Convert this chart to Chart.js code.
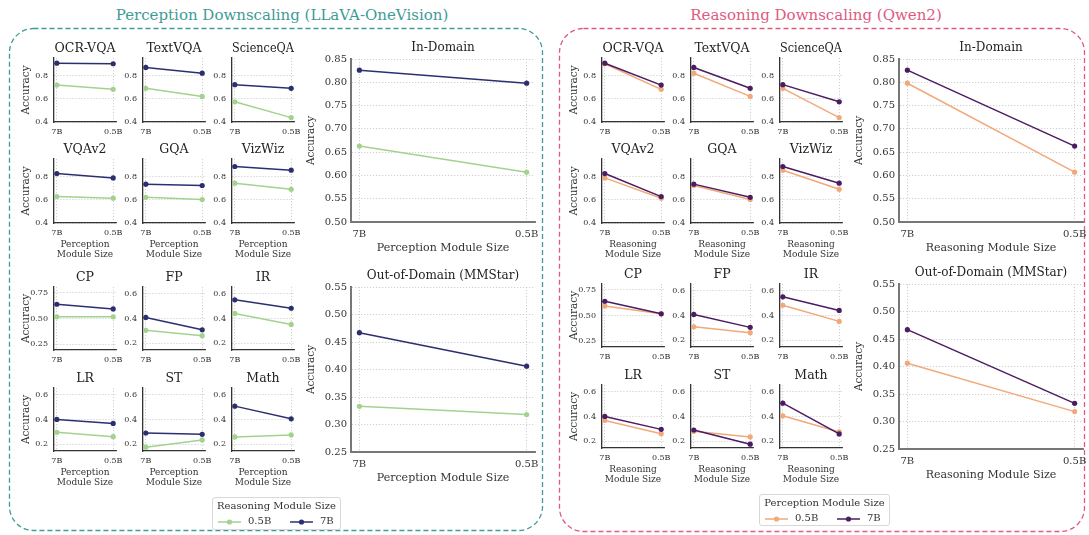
<!DOCTYPE html>
<html>
<head>
<meta charset="utf-8">
<script src="https://cdn.jsdelivr.net/npm/chart.js@4.4.1/dist/chart.umd.min.js"></script>
<style>
body { margin: 0; background: #fff; width: 1089px; height: 535px; position: relative; overflow: hidden; font-family: 'DejaVu Serif', serif; }
canvas { position: absolute; }
.ptitle { position: absolute; top: 5px; width: 500px; text-align: center; font-size: 15px; line-height: 20px; }
.legend { position: absolute; background: #fff; border: 1px solid #d8d8d8; border-radius: 3px; color: #333; font-size: 10px; }
.legend div { position: absolute; white-space: nowrap; line-height: 12px; }
.legend svg { position: absolute; }
</style>
</head>
<body>
<svg width="1089" height="535" style="position:absolute;left:0;top:0">
  <rect x="9.5" y="28.5" width="533" height="502" rx="24" fill="none" stroke="#3f9b96" stroke-width="1.3" stroke-dasharray="5 3"/>
  <rect x="559.5" y="28.5" width="525" height="503" rx="24" fill="none" stroke="#de5a80" stroke-width="1.3" stroke-dasharray="5 3"/>
</svg>
<div class="ptitle" style="left:32px;color:#3f9b96">Perception Downscaling (LLaVA-OneVision)</div>
<div class="ptitle" style="left:566px;color:#de5a80">Reasoning Downscaling (Qwen2)</div>

<script>
// Benchmarks, in subplot order
const benchmarks = ['OCR-VQA', 'TextVQA', 'ScienceQA', 'VQAv2', 'GQA', 'VizWiz',
    'CP', 'FP', 'IR', 'LR', 'ST', 'Math', 'In-Domain', 'Out-of-Domain (MMStar)'];
const sizeLabels = ['7B', '0.5B'];

// Accuracy for each (perception size, reasoning size) pair
const accP7R7   = [0.910, 0.873, 0.724, 0.829, 0.737, 0.890, 0.638, 0.408, 0.550, 0.400, 0.291, 0.507, 0.826, 0.467];
const accP05R7  = [0.905, 0.823, 0.692, 0.791, 0.725, 0.858, 0.593, 0.309, 0.482, 0.368, 0.280, 0.405, 0.798, 0.406];
const accP7R05  = [0.720, 0.692, 0.575, 0.629, 0.623, 0.745, 0.516, 0.304, 0.440, 0.296, 0.177, 0.259, 0.663, 0.333];
const accP05R05 = [0.683, 0.622, 0.438, 0.615, 0.603, 0.692, 0.516, 0.261, 0.352, 0.261, 0.235, 0.275, 0.607, 0.318];

// Y tick labels
const ticksHigh = [0.4, 0.6, 0.8];
const ticksCP = [0.25, 0.50, 0.75];
const ticksLow = [0.2, 0.4, 0.6];
const ticksInDomain = [0.50, 0.55, 0.60, 0.65, 0.70, 0.75, 0.80, 0.85];
const ticksOOD = [0.25, 0.30, 0.35, 0.40, 0.45, 0.50, 0.55];

const FONT = 'DejaVu Serif';
const TEXT = '#333';

function yAxisFor(i) {
    if (i < 6) return { min: 0.4, max: 0.955, ticks: ticksHigh, dec: 1 };
    if (i === 6) return { min: 0.195, max: 0.805, ticks: ticksCP, dec: 2 };
    if (i < 12) return { min: 0.146, max: 0.653, ticks: ticksLow, dec: 1 };
    if (i === 12) return { min: 0.5, max: 0.85, ticks: ticksInDomain, dec: 2 };
    return { min: 0.25, max: 0.55, ticks: ticksOOD, dec: 2 };
}

const panels = [
    {
        dx: 0, dyLow: 0, xName: 'Perception', legendTitle: 'Reasoning Module Size',
        series: [
            { label: '0.5B', color: '#a3d28f', at7B: accP7R05, at05B: accP05R05 },
            { label: '7B', color: '#2c2f6f', at7B: accP7R7, at05B: accP05R7 }
        ],
        legend: { l: 212, t: 497, w: 127, h: 31 }
    },
    {
        dx: 548, dyLow: -3, xName: 'Reasoning', legendTitle: 'Perception Module Size',
        series: [
            { label: '0.5B', color: '#f2a97a', at7B: accP05R7, at05B: accP05R05 },
            { label: '7B', color: '#4a1c62', at7B: accP7R7, at05B: accP7R05 }
        ],
        legend: { l: 759, t: 494, w: 129, h: 30 }
    }
];

const colLeft = [54, 143, 232];
const rowTop = [58, 159, 287, 388];
const rowH = [64, 64, 63, 63];

function makeChart(area, idx, panel, o) {
    const c = document.createElement('canvas');
    const W = area.r - area.l + o.padL + o.padR;
    const H = area.b - area.t + o.padT + o.padB;
    c.width = W; c.height = H;
    c.style.left = (area.l - o.padL) + 'px';
    c.style.top = (area.t - o.padT) + 'px';
    c.style.width = W + 'px'; c.style.height = H + 'px';
    document.body.appendChild(c);

    const ya = yAxisFor(idx);
    const datasets = panel.series.map(s => ({
        label: s.label,
        data: [{ x: 0, y: s.at7B[idx] }, { x: 1, y: s.at05B[idx] }],
        borderColor: s.color,
        backgroundColor: s.color,
        pointBackgroundColor: s.color,
        borderWidth: o.lw,
        pointRadius: o.pr,
        pointHoverRadius: o.pr,
        pointBorderWidth: 0,
        order: s.label === '7B' ? 0 : 1,
        clip: false
    }));

    new Chart(c, {
        type: 'line',
        data: { datasets },
        options: {
            responsive: false,
            animation: false,
            devicePixelRatio: 1,
            events: [],
            layout: { padding: { left: 0, top: 0, bottom: 0, right: o.padR } },
            plugins: {
                legend: { display: false },
                tooltip: { enabled: false },
                title: {
                    display: true,
                    fullSize: false,
                    text: benchmarks[idx],
                    color: '#222',
                    font: { family: FONT, size: o.ts, weight: 'normal' },
                    padding: { top: o.padT - o.ts * 1.2 - o.tGap, bottom: o.tGap }
                }
            },
            scales: {
                x: {
                    type: 'linear', min: -0.05, max: 1.05,
                    afterBuildTicks: s => { s.ticks = [{ value: 0 }, { value: 1 }]; },
                    afterFit: s => { s.height = o.padB; s.paddingLeft = 0; s.paddingRight = 0; },
                    ticks: { callback: v => sizeLabels[v], color: TEXT, font: { family: FONT, size: o.tick }, padding: o.xtp, maxRotation: 0, autoSkip: false },
                    grid: { color: '#c4c4c4', lineWidth: 0.8, drawTicks: false },
                    border: { color: o.spine, width: o.sw, dash: [1.2, 1.8] },
                    title: {
                        display: !!o.xTitle, text: o.xTitle, color: TEXT,
                        font: { family: FONT, size: o.xts, lineHeight: 1.2 },
                        padding: { top: 0, bottom: o.xtb }
                    }
                },
                y: {
                    min: ya.min, max: ya.max,
                    afterBuildTicks: s => { s.ticks = ya.ticks.map(v => ({ value: v })); },
                    afterFit: s => { s.width = o.padL; s.paddingTop = 0; s.paddingBottom = 0; },
                    ticks: { callback: v => v.toFixed(ya.dec), color: TEXT, font: { family: FONT, size: o.tick }, padding: o.ytp },
                    grid: { color: '#c4c4c4', lineWidth: 0.8, drawTicks: false },
                    border: { color: o.spine, width: o.sw, dash: [1.2, 1.8] },
                    title: {
                        display: o.yTitle, text: 'Accuracy', color: TEXT,
                        font: { family: FONT, size: 10.5 },
                        padding: { top: o.ytt, bottom: 0 }
                    }
                }
            }
        }
    });
}

panels.forEach(panel => {
    // 12 small subplots
    for (let i = 0; i < 12; i++) {
        const row = Math.floor(i / 3), col = i % 3;
        const top = rowTop[row] + (row >= 2 ? panel.dyLow : 0);
        const area = { l: colLeft[col] + panel.dx, t: top, r: colLeft[col] + panel.dx + 62, b: top + rowH[row] };
        const withX = row === 1 || row === 3;
        makeChart(area, i, panel, {
            padL: col === 0 ? 40 : 30, padR: 14, padT: 20, padB: withX ? 40 : 22,
            ts: 12.5, tGap: 2, tick: 8, xtp: 5, ytp: 6,
            xTitle: withX ? [panel.xName, 'Module Size'] : null, xts: 9, xtb: 2.6,
            yTitle: col === 0, ytt: 6.4,
            lw: 1.5, pr: 2.6, spine: '#333', sw: 1.3
        });
    }
    // In-Domain and Out-of-Domain
    const bigAreas = [
        { l: 351 + panel.dx, t: 59, r: 535 + panel.dx, b: 222 },
        { l: 351 + panel.dx, t: 287 + panel.dyLow, r: 535 + panel.dx, b: 452 + panel.dyLow }
    ];
    bigAreas.forEach((area, k) => {
        makeChart(area, 12 + k, panel, {
            padL: 51, padR: 14, padT: 22, padB: 34,
            ts: 12, tGap: k === 0 ? 3.8 : 3.5, tick: 10, xtp: 6, ytp: 4,
            xTitle: panel.xName + ' Module Size', xts: 11, xtb: 1.5,
            yTitle: true, ytt: 5.4,
            lw: 1.5, pr: 2.6, spine: '#777', sw: 2
        });
    });

    // Legend
    const lg = panel.legend;
    const box = document.createElement('div');
    box.className = 'legend';
    box.style.cssText = `left:${lg.l}px;top:${lg.t}px;width:${lg.w}px;height:${lg.h}px`;
    let html = `<div style="left:0;width:${lg.w}px;text-align:center;top:2px">${panel.legendTitle}</div>`;
    const xs = [5, 77];
    panel.series.forEach((s, k) => {
        html += `<svg width="23" height="8" style="left:${xs[k]}px;top:20px">` +
            `<line x1="0" y1="4" x2="23" y2="4" stroke="${s.color}" stroke-width="1.5"/>` +
            `<circle cx="11.5" cy="4" r="2.6" fill="${s.color}"/></svg>`;
        html += `<div style="left:${xs[k] + 30}px;top:17px">${s.label}</div>`;
    });
    box.innerHTML = html;
    document.body.appendChild(box);
});
</script>
</body>
</html>
